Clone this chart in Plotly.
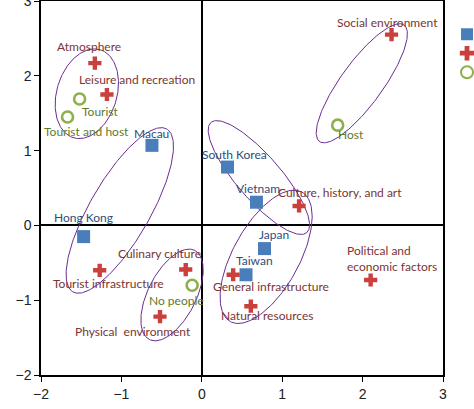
import numpy as np
import plotly.graph_objects as go

# ---- data ----
country_names = ["Macau", "South Korea", "Vietnam", "Hong Kong", "Japan", "Taiwan"]
country_x = [-0.62, 0.32, 0.68, -1.47, 0.78, 0.55]
country_y = [1.07, 0.78, 0.31, -0.15, -0.31, -0.66]

attr_names = ["Atmosphere", "Leisure and recreation", "Social environment",
              "Culture, history, and art", "Tourist infrastructure", "Culinary culture",
              "Physical  environment", "General infrastructure", "Natural resources",
              "Political and<br>economic factors"]
attr_x = [-1.33, -1.18, 2.36, 1.21, -1.27, -0.20, -0.52, 0.39, 0.61, 2.10]
attr_y = [2.17, 1.75, 2.55, 0.26, -0.60, -0.59, -1.22, -0.66, -1.08, -0.73]

people_names = ["Tourist", "Tourist and host", "Host", "No people"]
people_x = [-1.52, -1.67, 1.69, -0.12]
people_y = [1.69, 1.45, 1.34, -0.80]

# label anchor positions (data units)
country_lx = [-0.63, 0.41, 0.70, -1.47, 0.90, 0.65]
country_ly = [1.23, 0.95, 0.50, 0.11, -0.12, -0.47]
attr_lx = [-1.40, -0.81, 2.31, 1.72, -1.16, -0.52, -0.86, 0.86, 0.81, 1.78]
attr_ly = [2.39, 1.95, 2.71, 0.44, -0.78, -0.38, -1.42, -0.82, -1.21, -0.44]
people_lx = [-1.26, -1.44, 1.85, -0.32]
people_ly = [1.52, 1.26, 1.22, -1.00]

# grouping ellipses: centre (data), semi-axes (px), angle (deg)
ell_cx = [-1.43, -1.02, 0.71, 0.80, -0.37, 1.99]
ell_cy = [1.76, 0.20, 0.64, -0.42, -0.93, 1.90]
ell_a = [46, 94, 73, 74, 50, 72]
ell_b = [30, 30, 22, 33, 24, 21]
ell_ang = [73, 60, -49, 61, 63, 54]

W, H = 474, 409
ML, MR, MT, MB = 41, 31, 1, 34
XR = [-2, 3]
YR = [-2, 3]
sx = (W - ML - MR) / (XR[1] - XR[0])
sy = (H - MT - MB) / (YR[1] - YR[0])

fig = go.Figure()

t = np.linspace(0, 2 * np.pi, 200)
for cx, cy, a, b, ang in zip(ell_cx, ell_cy, ell_a, ell_b, ell_ang):
    th = np.deg2rad(ang)
    dx = a * np.cos(th) * np.cos(t) - b * np.sin(th) * np.sin(t)
    dy = a * np.sin(th) * np.cos(t) + b * np.cos(th) * np.sin(t)
    fig.add_trace(go.Scatter(x=cx + dx / sx, y=cy + dy / sy, mode="lines",
                             line=dict(color="#6A2C91", width=1),
                             showlegend=False, hoverinfo="skip"))

fig.add_trace(go.Scatter(x=country_x, y=country_y, mode="markers", name="",
                         marker=dict(symbol="square", size=13, color="#4A7EBB")))
fig.add_trace(go.Scatter(x=attr_x, y=attr_y, mode="markers", name="",
                         marker=dict(symbol="cross", size=11, color="#C9403D")))
fig.add_trace(go.Scatter(x=people_x, y=people_y, mode="markers", name="",
                         marker=dict(symbol="circle-open", size=11, color="#8DB04A",
                                     line=dict(width=2.6, color="#8DB04A"))))

lab_font = "Lato, 'Open Sans', sans-serif"
def add_labels(names, xs, ys, color):
    for n, x, y in zip(names, xs, ys):
        left = "<br>" in n
        fig.add_annotation(x=x, y=y, text=n, showarrow=False,
                           xanchor="left" if left else "center", align="left",
                           font=dict(family=lab_font, size=12, color=color))

add_labels(country_names, country_lx, country_ly, "#2E4D7B")
add_labels(attr_names, attr_lx, attr_ly, "#7A3434")
add_labels(people_names, people_lx, people_ly, "#5F7A2C")

axis_common = dict(showgrid=False, zeroline=True, zerolinecolor="black", zerolinewidth=1.5,
                   showline=True, linecolor="black", linewidth=1.5, mirror=True,
                   ticks="outside", ticklen=5, tickcolor="black", tickwidth=1.2,
                   ticklabeloverflow="allow",
                   dtick=1, tickfont=dict(family="Liberation Sans, Arial, sans-serif",
                                          size=14, color="#222"))
fig.update_xaxes(range=XR, **axis_common)
fig.update_yaxes(range=YR, **axis_common)

fig.update_layout(
    width=W, height=H,
    margin=dict(l=ML, r=MR, t=MT, b=MB, autoexpand=False),
    plot_bgcolor="white", paper_bgcolor="white",
    legend=dict(x=1.01, y=0.95, xanchor="left", yanchor="top",
                font=dict(family=lab_font, size=11, color="#333"),
                tracegroupgap=0, itemsizing="constant"),
)

fig.write_html("out.html", config={"displayModeBar": False},
               post_script="document.body.style.margin='0';document.body.style.overflow='hidden';")
